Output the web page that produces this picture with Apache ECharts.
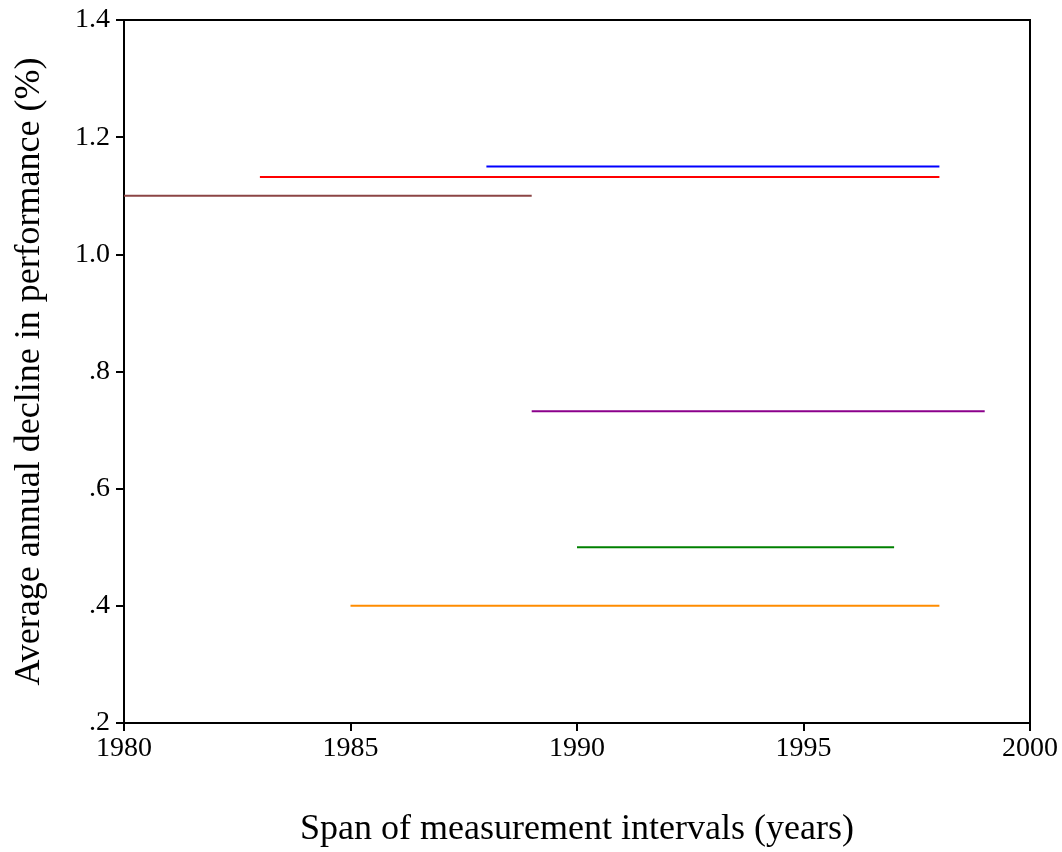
<!DOCTYPE html>
<html>
<head>
<meta charset="utf-8">
<script src="https://cdn.jsdelivr.net/npm/echarts@6/dist/echarts.min.js"></script>
<style>
  html, body { margin: 0; padding: 0; background: #fff; }
  #chart { width: 1062px; height: 852px; }
</style>
</head>
<body>
<div id="chart"></div>
<script>
// spans of measurement intervals and the average annual decline for each
var spanStart = [1988, 1983, 1980, 1989, 1990, 1985];
var spanEnd   = [1998, 1998, 1989, 1999, 1997, 1998];
var decline   = [1.15, 1.132, 1.10, 0.732, 0.50, 0.40];
var lineColors = ['#0000ff', '#ff0000', '#8b4545', '#8b008b', '#008000', '#ff8c00'];

var yTickLabels = {'0.2': '.2', '0.4': '.4', '0.6': '.6', '0.8': '.8', '1': '1.0', '1.2': '1.2', '1.4': '1.4'};

var FONT = 'Liberation Serif';

var series = [];
for (var i = 0; i < decline.length; i++) {
    series.push({
        type: 'line',
        data: [[spanStart[i], decline[i]], [spanEnd[i], decline[i]]],
        symbol: 'none',
        lineStyle: { color: lineColors[i], width: 2 },
        silent: true
    });
}

var myChart = echarts.init(document.getElementById('chart'));
myChart.setOption({
    animation: false,
    backgroundColor: '#fff',
    grid: {
        left: 124, right: 32, top: 20, bottom: 129,
        outerBoundsMode: 'none',
        containLabel: false,
        show: true, borderColor: '#000', borderWidth: 2
    },
    xAxis: {
        type: 'value',
        min: 1980, max: 2000, interval: 5,
        name: 'Span of measurement intervals (years)',
        nameLocation: 'middle',
        nameGap: 89,
        nameTextStyle: { fontFamily: FONT, fontSize: 36, color: '#000' },
        axisLine: { lineStyle: { color: '#000', width: 2 } },
        axisTick: { length: 8, lineStyle: { color: '#000', width: 2 } },
        axisLabel: {
            fontFamily: FONT, fontSize: 28, color: '#000', margin: 12,
            formatter: function (v) { return String(v); }
        },
        splitLine: { show: false }
    },
    yAxis: {
        type: 'value',
        min: 0.2, max: 1.4, interval: 0.2,
        name: 'Average annual decline in performance (%)',
        nameLocation: 'middle',
        nameGap: 76,
        nameTextStyle: { fontFamily: FONT, fontSize: 36, color: '#000' },
        axisLine: { lineStyle: { color: '#000', width: 2 } },
        axisTick: { length: 8, lineStyle: { color: '#000', width: 2 } },
        axisLabel: {
            fontFamily: FONT, fontSize: 28, color: '#000', margin: 14,
            formatter: function (v) {
                var k = String(Math.round(v * 10) / 10);
                return yTickLabels[k] || k;
            }
        },
        splitLine: { show: false }
    },
    series: series
});
</script>
</body>
</html>
